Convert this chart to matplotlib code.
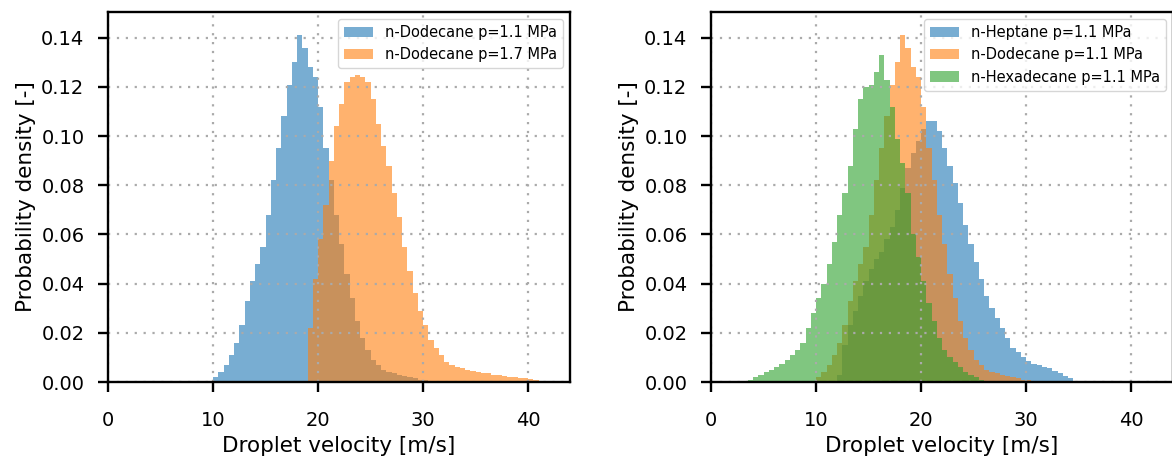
import numpy as np
import matplotlib
matplotlib.use("Agg")
from matplotlib import pyplot as plt

bin_w = 0.5

# n-Dodecane p=1.1 MPa (used in both panels)
dod11_start = 10.0
dod11 = [0.002, 0.004, 0.007, 0.011, 0.016, 0.023, 0.033, 0.041, 0.048, 0.055,
         0.068, 0.082, 0.095, 0.108, 0.121, 0.130, 0.141, 0.136, 0.128, 0.124,
         0.112, 0.095, 0.082, 0.068, 0.056, 0.044, 0.034, 0.025, 0.018, 0.013,
         0.009, 0.007, 0.005, 0.004, 0.0035, 0.003, 0.0025, 0.002, 0.0015, 0.001,
         0.001, 0.0005]

# n-Dodecane p=1.7 MPa
dod17_start = 19.0
dod17 = [0.022, 0.042, 0.058, 0.072, 0.090, 0.104, 0.113, 0.122, 0.124, 0.125,
         0.124, 0.122, 0.115, 0.105, 0.096, 0.088, 0.077, 0.067, 0.055, 0.045,
         0.036, 0.029, 0.023, 0.017, 0.014, 0.011, 0.008, 0.007, 0.006, 0.0055,
         0.005, 0.0045, 0.004, 0.0038, 0.0035, 0.003, 0.003, 0.0025, 0.0022, 0.002,
         0.0018, 0.0015, 0.0012, 0.0008, 0.0003]

# n-Heptane p=1.1 MPa
hep11_start = 12.0
hep11 = [0.003, 0.015, 0.023, 0.029, 0.035, 0.041, 0.046, 0.050, 0.053, 0.058,
         0.063, 0.070, 0.079, 0.087, 0.093, 0.098, 0.103, 0.106, 0.106, 0.102,
         0.095, 0.088, 0.081, 0.073, 0.064, 0.056, 0.049, 0.042, 0.035, 0.030,
         0.026, 0.022, 0.018, 0.014, 0.012, 0.010, 0.0085, 0.0075, 0.007, 0.006,
         0.0055, 0.0045, 0.0035, 0.0025, 0.0015, 0.0005]

# n-Hexadecane p=1.1 MPa
hex11_start = 3.5
hex11 = [0.001, 0.002, 0.003, 0.004, 0.005, 0.006, 0.0075, 0.009, 0.011, 0.013,
         0.016, 0.022, 0.028, 0.034, 0.040, 0.048, 0.057, 0.068, 0.077, 0.088,
         0.103, 0.115, 0.120, 0.121, 0.126, 0.133, 0.123, 0.112, 0.099, 0.089,
         0.077, 0.060, 0.051, 0.041, 0.032, 0.025, 0.018, 0.013, 0.010, 0.008,
         0.006, 0.004, 0.003, 0.002, 0.001, 0.0005]

x_ticks = [0, 10, 20, 30, 40]
y_ticks = [0.00, 0.02, 0.04, 0.06, 0.08, 0.10, 0.12, 0.14]


def edges(start, vals):
    return start + bin_w * np.arange(len(vals) + 1)


def style(ax):
    ax.set_xlim(0, 44)
    ax.set_ylim(0, 0.1505)
    ax.set_xticks(x_ticks)
    ax.set_yticks(y_ticks)
    ax.set_yticklabels([f"{t:.2f}" for t in y_ticks])
    ax.grid(True, linestyle=(0, (1, 3)), color="#aaaaaa", linewidth=1.6)
    ax.tick_params(labelsize=14, length=7, width=1.7)
    ax.tick_params(axis="x", pad=14)
    ax.tick_params(axis="y", pad=10)
    for s in ax.spines.values():
        s.set_linewidth(1.7)
    ax.set_xlabel("Droplet velocity [m/s]", fontsize=15.5)
    ax.set_ylabel("Probability density [-]", fontsize=15.5)
    ax.legend(loc="upper right", fontsize=10.5)


fig = plt.figure(figsize=(11.72, 4.58), dpi=100)
W, H = 1172, 458
ax1 = fig.add_axes([108 / W, 76 / H, 462 / W, 370 / H])
ax2 = fig.add_axes([711 / W, 76 / H, 462 / W, 370 / H])

ax1.stairs(dod11, edges(dod11_start, dod11), fill=True, color="C0", alpha=0.6,
           label="n-Dodecane p=1.1 MPa")
ax1.stairs(dod17, edges(dod17_start, dod17), fill=True, color="C1", alpha=0.6,
           label="n-Dodecane p=1.7 MPa")
style(ax1)

ax2.stairs(hep11, edges(hep11_start, hep11), fill=True, color="C0", alpha=0.6,
           label="n-Heptane p=1.1 MPa")
ax2.stairs(dod11, edges(dod11_start, dod11), fill=True, color="C1", alpha=0.6,
           label="n-Dodecane p=1.1 MPa")
ax2.stairs(hex11, edges(hex11_start, hex11), fill=True, color="C2", alpha=0.6,
           label="n-Hexadecane p=1.1 MPa")
style(ax2)

fig.savefig("out.png", dpi=100)
